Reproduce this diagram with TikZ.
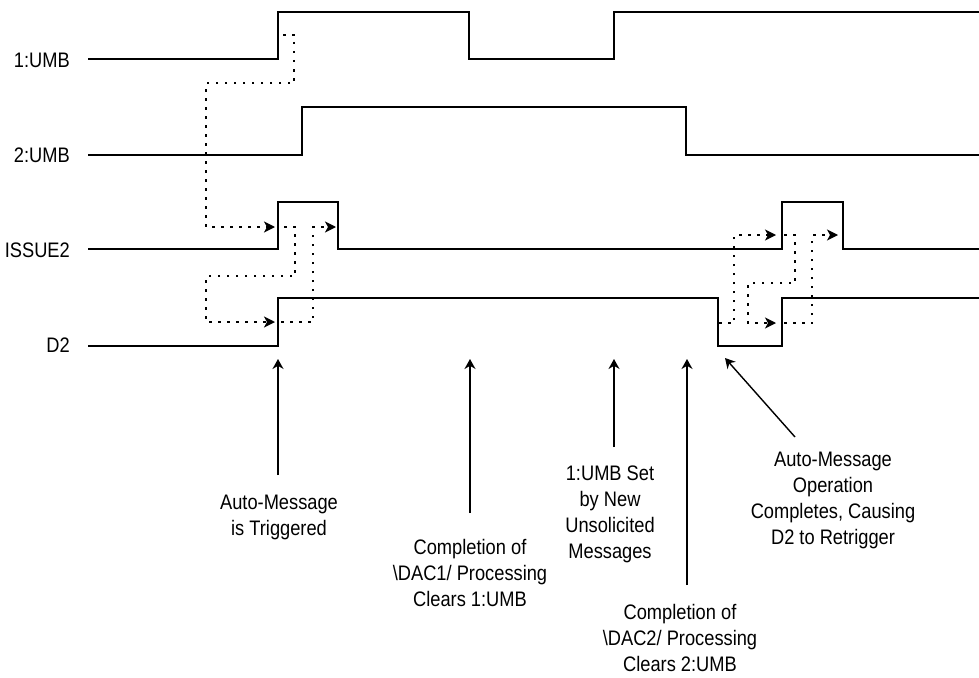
\documentclass[tikz,border=0pt]{standalone}
\usepackage{fontspec}
\setmainfont[FakeStretch=0.87]{Liberation Sans}
\usetikzlibrary{arrows.meta,positioning}
\tikzset{
  sig/.style = {line width=1.4pt, line join=miter},
  sname/.style = {anchor=east, inner sep=0pt, font=\fontsize{21}{26}\selectfont},
  note/.style = {anchor=north, inner sep=0pt, align=center, font=\fontsize{21}{26}\selectfont},
  cause/.style = {line width=1.6pt, dash pattern=on 2.5pt off 6.5pt, -{Stealth[length=11pt,width=11pt,inset=3pt]}},
  pointer/.style = {line width=1.4pt, -{Stealth[length=10pt,width=11pt]}}
}

\begin{document}
\begin{tikzpicture}[x=1pt, y=-1pt]
  \useasboundingbox (0,0) rectangle (979,677);
  % signal names
  \node[sname] (umbA) at (70,60) {1:UMB};
  \node[sname] (umbB) at (70,155) {2:UMB};
  \node[sname] (iss) at (70,250) {ISSUE2};
  \node[sname] (dtwo) at (70,345) {D2};
  % waveforms
  \draw[sig] (88,59) -- (278,59) -- (278,12) -- (469,12) -- (469,59) -- (614,59) -- (614,12) -- (979,12);
  \draw[sig] (88,155) -- (302,155) -- (302,107) -- (686,107) -- (686,155) -- (979,155);
  \draw[sig] (88,249) -- (278,249) -- (278,202) -- (338,202) -- (338,249) -- (782,249) -- (782,202) -- (843,202) -- (843,249) -- (979,249);
  \draw[sig] (88,346) -- (278,346) -- (278,298) -- (718,298) -- (718,346) -- (782,346) -- (782,298) -- (979,298);
  % cause and effect
  \draw[cause] (283,35) -- (294,35) -- (294,83) -- (206,83) -- (206,227) -- (275,227);
  \draw[cause] (284,227) -- (295,227) -- (295,276) -- (206,276) -- (206,322) -- (275,322);
  \draw[cause] (281,322) -- (313,322) -- (313,227) -- (336,227);
  \draw[cause] (719,323) -- (734,323) -- (734,235) -- (776,235);
  \draw[cause] (784,235) -- (795,235) -- (795,283) -- (748,283) -- (748,323) -- (776,323);
  \draw[cause] (784,323) -- (812,323) -- (812,235) -- (838,235);
  % notes
  \node[note] (trig) at (279,495) {Auto-Message\\is Triggered};
  \node[note] (clrA) at (470,539) {Completion of\\\textbackslash DAC1/ Processing\\Clears 1:UMB};
  \node[note] (setA) at (610,466) {1:UMB Set\\by New\\Unsolicited\\Messages};
  \node[note] (clrB) at (680,604) {Completion of\\\textbackslash DAC2/ Processing\\Clears 2:UMB};
  \node[note] (retr) at (833,452) {Auto-Message\\Operation\\Completes, Causing\\D2 to Retrigger};
  \coordinate (tipA) at (278,359);
  \coordinate (tipB) at (470,359);
  \coordinate (tipC) at (614,359);
  \coordinate (tipD) at (687,359);
  \coordinate (tipE) at (725,358);
  \draw[pointer] ([xshift=-1pt,yshift=20pt]trig.north) -- (tipA);
  \draw[pointer] ([yshift=26pt]clrA.north) -- (tipB);
  \draw[pointer] ([xshift=4pt,yshift=19pt]setA.north) -- (tipC);
  \draw[pointer] ([xshift=7pt,yshift=19pt]clrB.north) -- (tipD);
  \draw[pointer] ([xshift=-38pt,yshift=15pt]retr.north) -- (tipE);
\end{tikzpicture}
\end{document}
